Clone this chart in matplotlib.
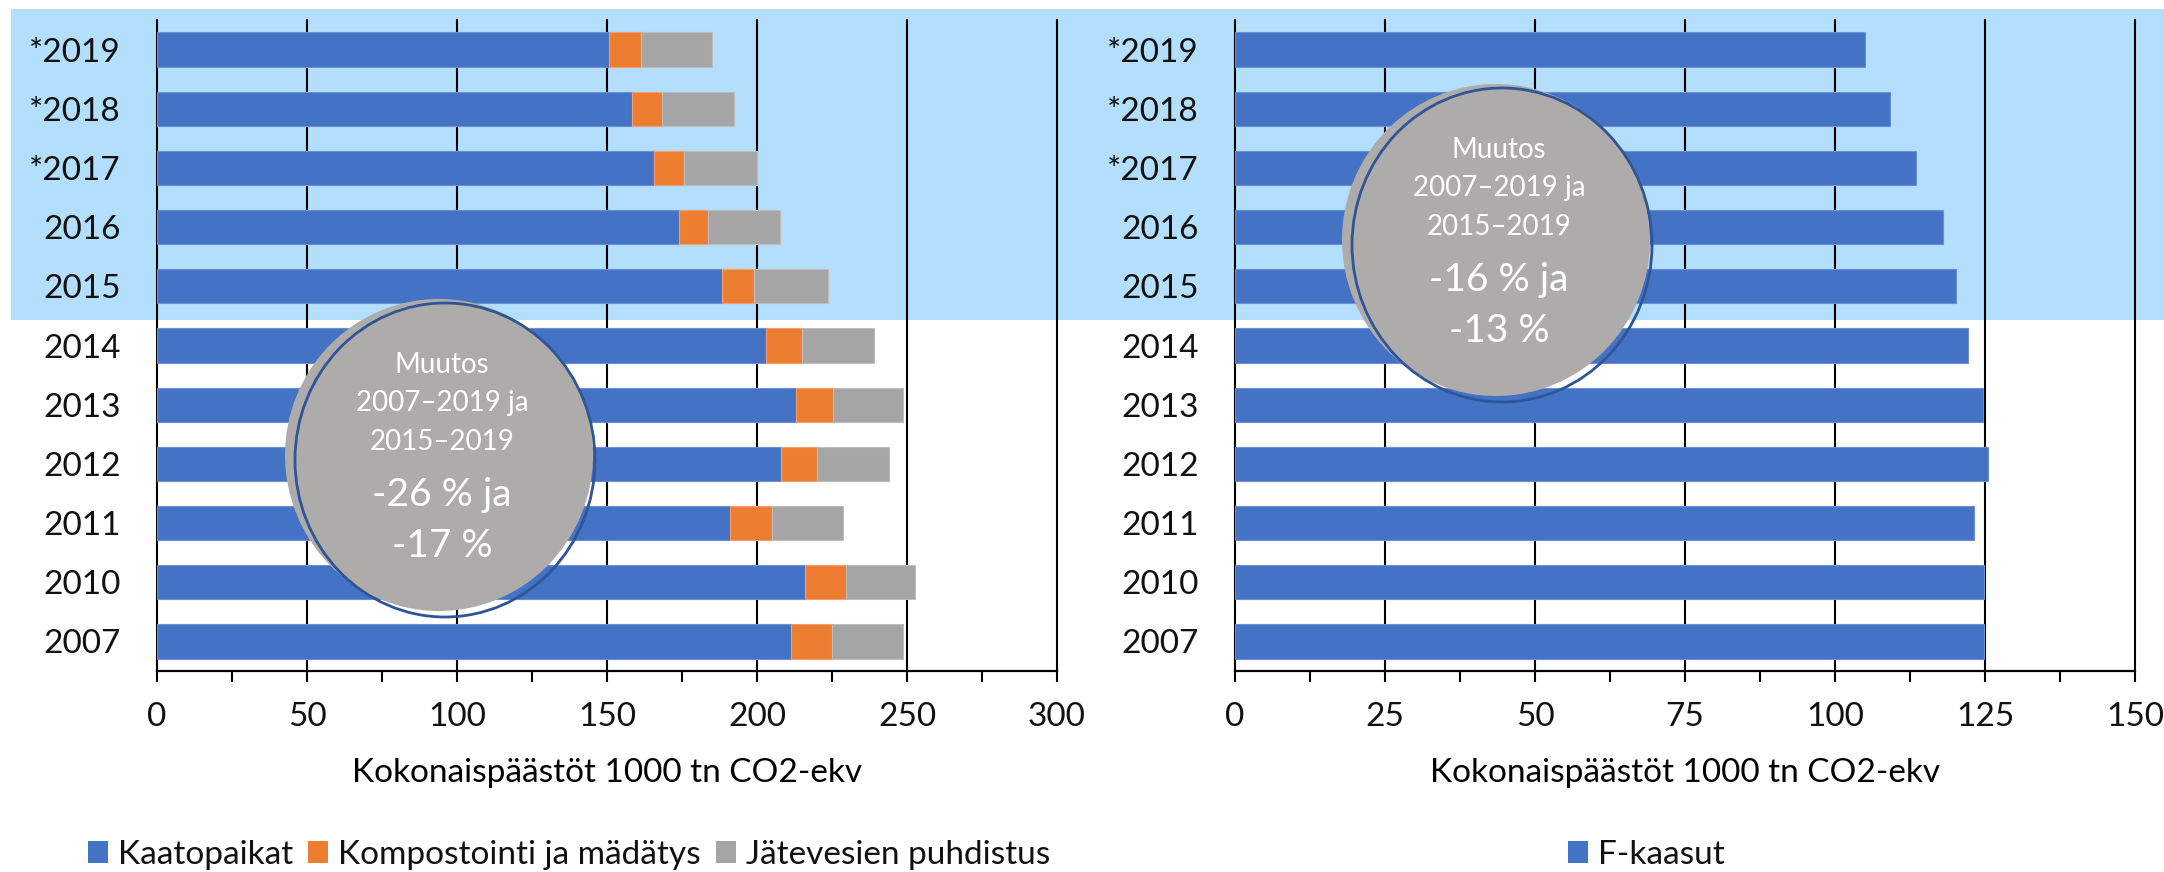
import matplotlib
matplotlib.use("Agg")
import matplotlib.pyplot as plt
from matplotlib.patches import Rectangle, Ellipse, Patch

# ---------------- data ----------------
years = ['*2019', '*2018', '*2017', '2016', '2015', '2014', '2013', '2012', '2011', '2010', '2007']
kaatopaikat = [150.5, 158.2, 165.8, 174.0, 188.4, 203.1, 213.1, 208.0, 191.0, 216.0, 211.4]
kompostointi = [10.9, 10.2, 9.9, 9.7, 10.6, 12.0, 12.2, 12.1, 14.1, 13.6, 13.6]
jatevesi = [23.6, 23.8, 24.3, 24.0, 24.5, 24.0, 23.5, 23.8, 23.5, 23.0, 23.6]
fkaasut = [105.0, 109.2, 113.5, 118.0, 120.1, 122.2, 124.6, 125.5, 123.1, 124.9, 124.9]

left_series = ['Kaatopaikat', 'Kompostointi ja mädätys', 'Jätevesien puhdistus']
right_series = ['F-kaasut']
xlabel = 'Kokonaispäästöt 1000 tn CO2-ekv'
left_ticks = [0, 50, 100, 150, 200, 250, 300]
right_ticks = [0, 25, 50, 75, 100, 125, 150]
callout_small = ['Muutos', '2007–2019 ja', '2015–2019']
left_callout_big = ['-26 % ja', '-17 %']
right_callout_big = ['-16 % ja', '-13 %']

# ---------------- style ----------------
BLUE = '#4472C4'
ORANGE = '#ED7D31'
GRAY = '#A5A5A5'
BAND = '#B3DEFC'
BUBBLE = '#AEACAB'
BUBBLE_EDGE = '#2F5597'
FONT = ['Lato', 'DejaVu Sans']
plt.rcParams['font.family'] = FONT
plt.rcParams['font.weight'] = 'normal'
plt.rcParams['text.color'] = '#111111'
plt.rcParams['xtick.labelcolor'] = '#111111'
plt.rcParams['ytick.labelcolor'] = '#111111'
FS = 24

W, H = 2164, 872
fig = plt.figure(figsize=(W / 100, H / 100), dpi=100)

# highlight band (figure-level background, behind the axes)
fig.patches.append(Rectangle((11 / W, 1 - 320 / H), 1 - 11 / W, (320 - 9) / H,
                             transform=fig.transFigure, facecolor=BAND,
                             edgecolor='none', zorder=-10))

ax_b = 1 - 671 / H
ax_h = (671 - 20) / H
axL = fig.add_axes([157 / W, ax_b, (1057 - 157) / W, ax_h])
axR = fig.add_axes([1235 / W, ax_b, (2135 - 1235) / W, ax_h])

pos = list(range(len(years)))
bh = 0.58


def style_axis(ax, ticks, minor_step):
    ax.set_facecolor('none')
    ax.set_xlim(ticks[0], ticks[-1])
    ax.set_ylim(len(years) - 0.5, -0.5)
    ax.set_xticks(ticks)
    ax.set_xticks([t + minor_step for t in ticks[:-1]], minor=True)
    ax.set_yticks(pos)
    ax.set_yticklabels(years)
    ax.tick_params(axis='y', length=0, pad=26, labelsize=FS)
    ax.tick_params(axis='x', which='both', direction='out', length=8,
                   width=1.5, color='black', pad=14, labelsize=FS)
    ax.grid(axis='x', which='major', color='black', linewidth=1.5, zorder=1)
    ax.set_axisbelow(True)
    for ln in ax.get_xgridlines():
        ln.set_clip_on(False)
    for s in ['top', 'right', 'left']:
        ax.spines[s].set_visible(False)
    ax.spines['bottom'].set_linewidth(1.6)
    ax.spines['bottom'].set_color('black')
    ax.set_xlabel(xlabel, fontsize=FS, labelpad=19)


# left chart
left_k = kaatopaikat
left_o = kompostointi
left_j = jatevesi
axL.barh(pos, left_k, height=bh, color=BLUE, edgecolor='#6A8FD3', linewidth=0.8, zorder=2)
axL.barh(pos, left_o, left=left_k, height=bh, color=ORANGE, edgecolor='#F2A070', linewidth=0.8, zorder=2)
axL.barh(pos, left_j, left=[a + b for a, b in zip(left_k, left_o)], height=bh,
         color=GRAY, edgecolor='#BDBDBD', linewidth=0.8, zorder=2)
style_axis(axL, left_ticks, 25)

# right chart
axR.barh(pos, fkaasut, height=bh, color=BLUE, edgecolor='#6A8FD3', linewidth=0.8, zorder=2)
style_axis(axR, right_ticks, 12.5)


def bubble(cx_px, cy_px, big_lines):
    tr = fig.transFigure
    cx, cy = cx_px / W, 1 - cy_px / H
    fill = Ellipse((cx - 3 / W, cy + 2 / H), 308 / W, 312 / H, angle=0,
                   transform=tr, facecolor=BUBBLE, edgecolor='none', zorder=5)
    edge = Ellipse((cx + 3 / W, cy - 3 / H), 300 / W, 314 / H, angle=0,
                   transform=tr, facecolor='none', edgecolor=BUBBLE_EDGE,
                   linewidth=2.0, zorder=6)
    fig.patches.extend([fill, edge])
    offs_small = [-92, -54, -15]
    offs_big = [38, 89]
    for t, o in zip(callout_small, offs_small):
        fig.text(cx, 1 - (cy_px + o) / H, t, color='white', fontsize=20,
                 ha='center', va='center', zorder=7)
    for t, o in zip(big_lines, offs_big):
        fig.text(cx, 1 - (cy_px + o) / H, t, color='white', fontsize=28,
                 ha='center', va='center', zorder=7)


bubble(442, 457, left_callout_big)
bubble(1499, 242, right_callout_big)

# legends
hl = [Patch(facecolor=c, edgecolor='none') for c in [BLUE, ORANGE, GRAY]]
fig.legend(hl, left_series, loc='center', bbox_to_anchor=(569 / W, 1 - 855 / H),
           ncol=3, frameon=False, fontsize=FS, handlelength=0.6, handleheight=0.65,
           handletextpad=0.3, columnspacing=0.45, borderaxespad=0, borderpad=0)
fig.legend([Patch(facecolor=BLUE, edgecolor='none')], right_series, loc='center',
           bbox_to_anchor=(1646 / W, 1 - 855 / H), frameon=False, fontsize=FS,
           handlelength=0.6, handleheight=0.65, handletextpad=0.3,
           borderaxespad=0, borderpad=0)

fig.savefig('out.png', dpi=100)
